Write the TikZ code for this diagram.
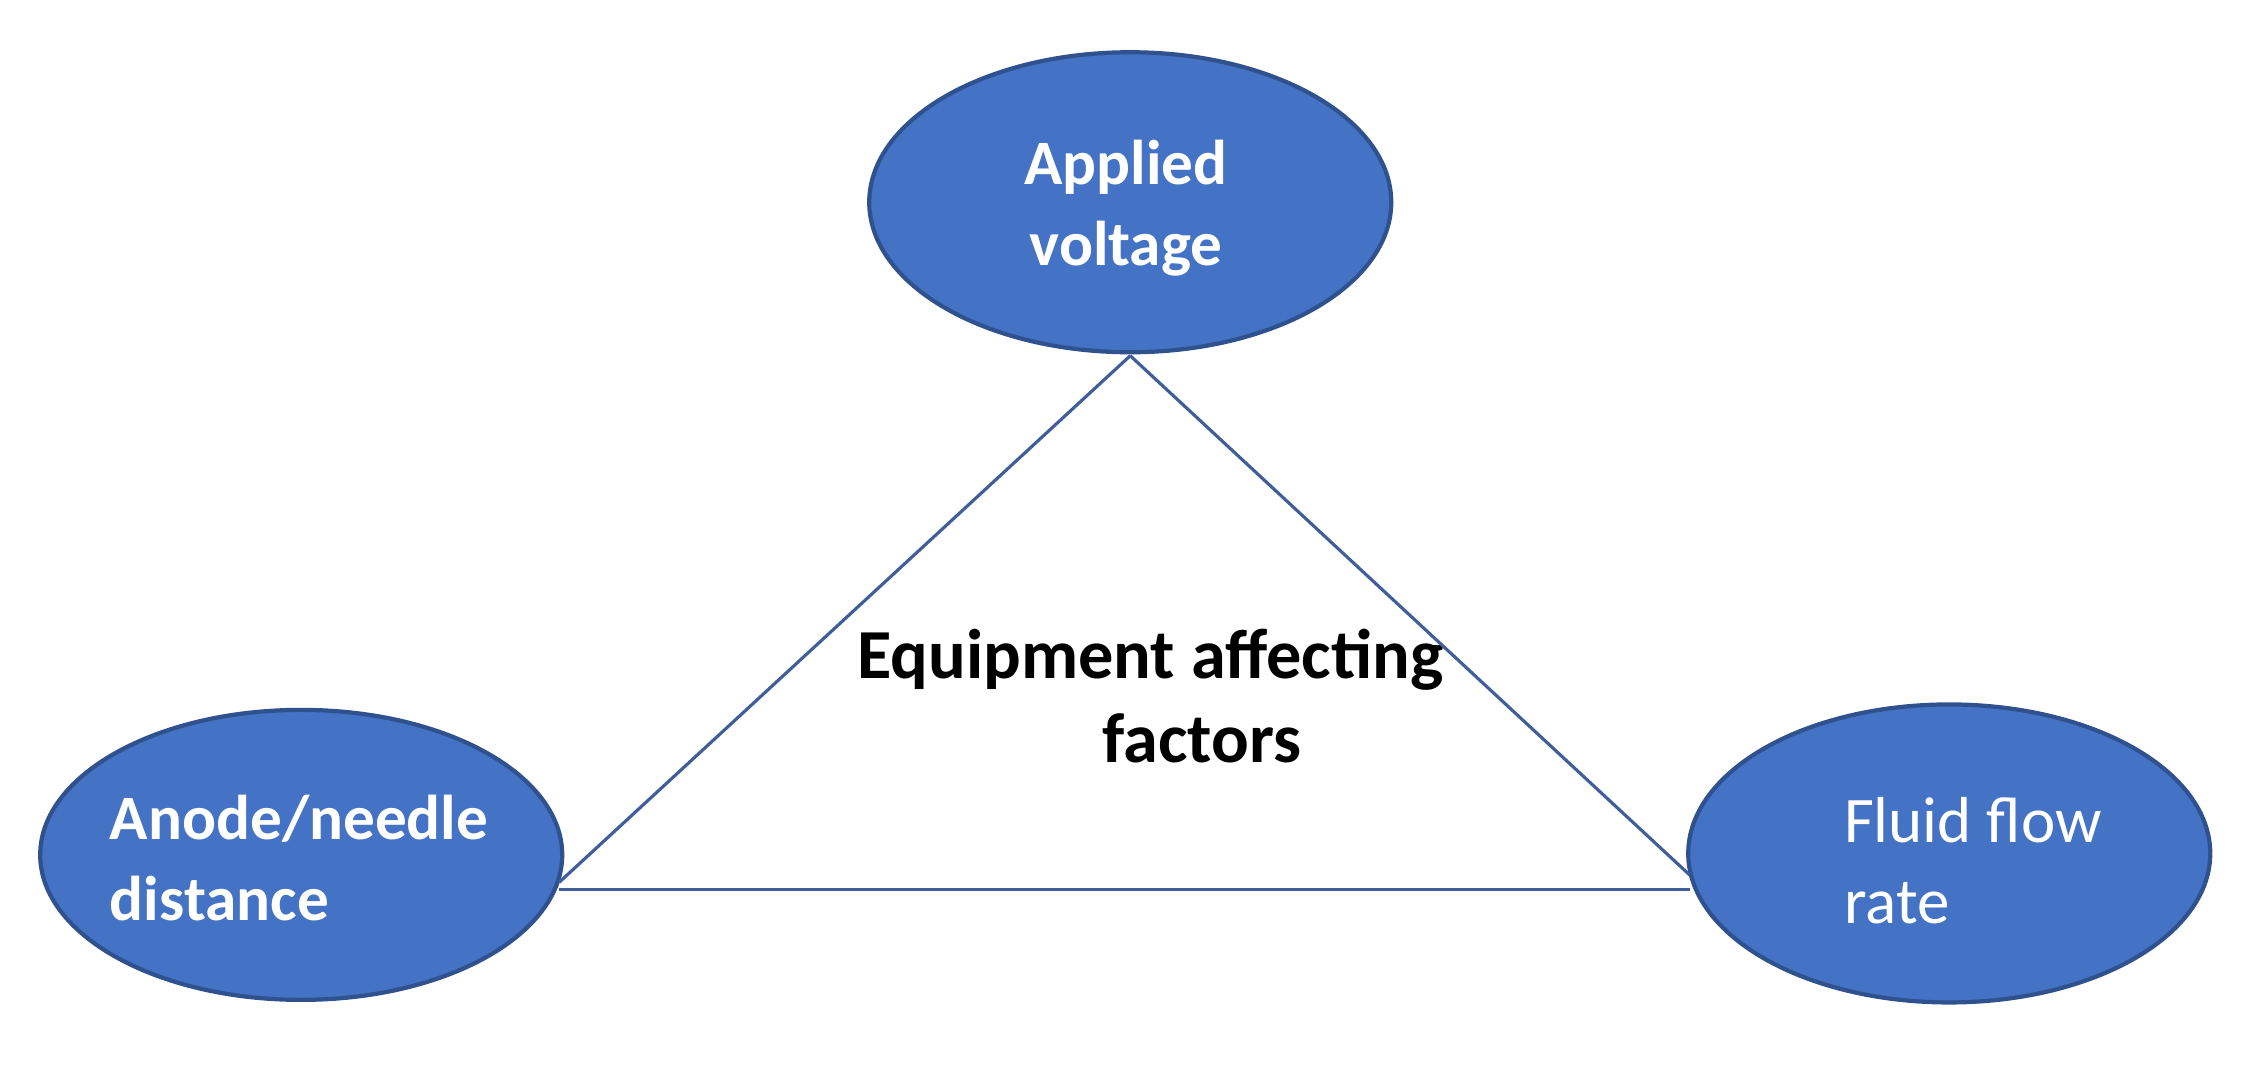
\documentclass[tikz,border=0pt]{standalone}
\usepackage{fontspec}
\setmainfont{Carlito}
\usetikzlibrary{shapes.geometric}
\definecolor{blobfill}{HTML}{4472C4}
\definecolor{blobline}{HTML}{2F528F}
\definecolor{linkline}{HTML}{3F5E9A}
\tikzset{
  blob/.style={ellipse,fill=blobfill,draw=blobline,line width=1.2pt,inner sep=0pt,minimum width=5.22cm},
  blobtext/.style={text=white,font=\bfseries\fontsize{18}{23}\selectfont,align=left,anchor=west},
  midtext/.style={font=\bfseries\fontsize{20}{24}\selectfont},
  link/.style={draw=linkline,line width=0.9pt}
}
\begin{document}
\begin{tikzpicture}[x=0.01435cm,y=-0.01435cm]
\useasboundingbox (0,0) rectangle (1568,748);
\node[blob,minimum height=3.0cm] (top) at (788,141) {};
\node[blob,minimum height=2.9cm] (left) at (210,596) {};
\node[blob,minimum height=2.98cm] (right) at (1359,595) {};
\node[blobtext,anchor=center,align=center] (toptext) at (785,145) {Applied\\voltage};
\node[blobtext] (lefttext) at (68,598) {Anode/needle\\distance};
\node[blobtext,font=\fontsize{18.5}{23}\selectfont] (righttext) at (1277,600) {Fluid flow\\rate};
\node[midtext] (centre) at (802,460) {Equipment affecting};
\node[midtext] (centre2) at (838,515) {factors};
\coordinate (apex) at (788,248);
\coordinate (lefttip) at (390,615);
\coordinate (leftbase) at (390,620);
\coordinate (righttip) at (1178,610);
\coordinate (rightbase) at (1178,620);
\draw[link] (apex) -- (lefttip);
\draw[link] (apex) -- (righttip);
\draw[link] (leftbase) -- (rightbase);
\end{tikzpicture}
\end{document}
